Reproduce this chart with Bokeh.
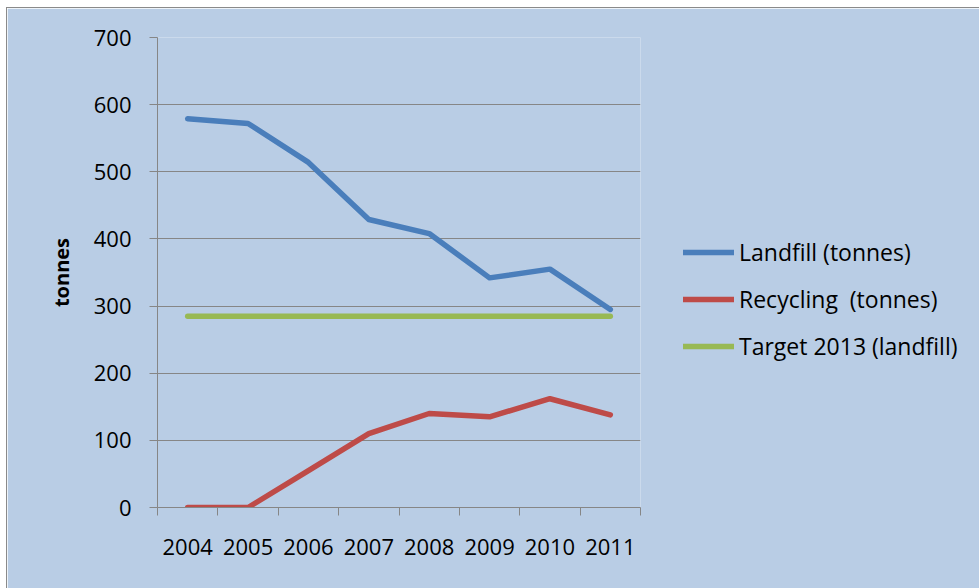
from bokeh.plotting import figure
from bokeh.models import FixedTicker, Legend, LegendItem, Range1d
from bokeh.embed import file_html
from bokeh.resources import INLINE

years = ["2004", "2005", "2006", "2007", "2008", "2009", "2010", "2011"]
landfill = [579, 572, 514, 429, 408, 342, 355, 295]
recycling = [0, 0, 55, 110, 140, 135, 162, 138]
target = [285, 285, 285, 285, 285, 285, 285, 285]
y_ticks = [0, 100, 200, 300, 400, 500, 600, 700]

BG = "#B9CDE5"
GRID = "#868686"
FONT = "Open Sans"

x = [i + 0.5 for i in range(len(years))]

p = figure(frame_width=483, frame_height=470,
           min_border_left=150, min_border_right=339,
           min_border_top=29, min_border_bottom=81,
           x_range=Range1d(0, len(years)), y_range=Range1d(0, 700),
           output_backend="svg", toolbar_location=None)
p.margin = (8, 0, 0, 7)
p.styles = {"outline": "1px solid #8A8A8A"}

p.background_fill_color = BG
p.border_fill_color = BG
p.outline_line_color = None

r1 = p.line(x, landfill, line_color="#4A7EBB", line_width=5.5, line_cap="round", line_join="round")
r2 = p.line(x, recycling, line_color="#BE4B48", line_width=5.5, line_cap="round", line_join="round")
r3 = p.line(x, target, line_color="#98B954", line_width=5.5, line_cap="round", line_join="round")

# x axis
p.xaxis.ticker = FixedTicker(ticks=x, minor_ticks=list(range(len(years) + 1)))
p.xaxis.major_label_overrides = {xi: yr for xi, yr in zip(x, years)}
p.xaxis.major_tick_out = 0
p.xaxis.major_tick_in = 0
p.xaxis.minor_tick_out = 8
p.xaxis.minor_tick_in = 0
p.xaxis.minor_tick_line_color = GRID
p.xaxis.axis_line_color = GRID
p.xaxis.major_label_text_font = FONT
p.xaxis.major_label_text_font_size = "22px"
p.xaxis.major_label_text_color = "black"
p.xaxis.major_label_standoff = 23

# y axis
p.yaxis.ticker = FixedTicker(ticks=y_ticks, minor_ticks=[])
p.yaxis.major_tick_out = 8
p.yaxis.major_tick_in = 0
p.yaxis.major_tick_line_color = GRID
p.yaxis.axis_line_color = GRID
p.yaxis.major_label_text_font = FONT
p.yaxis.major_label_text_font_size = "22px"
p.yaxis.major_label_text_color = "black"
p.yaxis.major_label_standoff = 18
p.yaxis.axis_label = "tonnes"
p.yaxis.axis_label_text_font = FONT
p.yaxis.axis_label_text_font_size = "20px"
p.yaxis.axis_label_text_font_style = "bold"
p.yaxis.axis_label_text_color = "black"
p.yaxis.axis_label_standoff = 16

p.xgrid.visible = False
p.ygrid.ticker = FixedTicker(ticks=y_ticks)
p.ygrid.grid_line_color = GRID
p.ygrid.grid_line_width = 1

legend = Legend(items=[
    LegendItem(label="Landfill (tonnes)", renderers=[r1]),
    LegendItem(label="Recycling  (tonnes)", renderers=[r2]),
    LegendItem(label="Target 2013 (landfill)", renderers=[r3]),
], location=(43, 145))
legend.padding = 0
legend.margin = 0
legend.border_line_color = None
legend.background_fill_alpha = 0
legend.glyph_width = 51
legend.glyph_height = 30
legend.label_height = 30
legend.spacing = 15
legend.label_standoff = 5
legend.label_text_font = FONT
legend.label_text_font_size = "23px"
legend.label_text_color = "black"
p.add_layout(legend, "right")

open("out.html", "w").write(file_html(p, INLINE))
